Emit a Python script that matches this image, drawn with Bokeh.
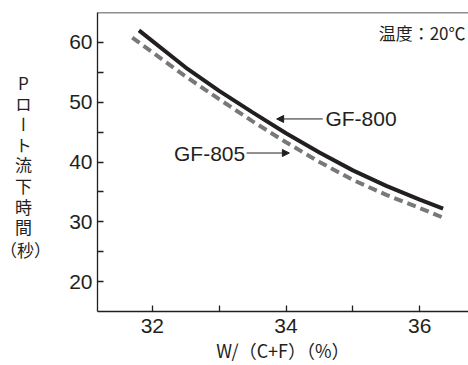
from bokeh.plotting import figure
from bokeh.layouts import row
from bokeh.models import (Range1d, FixedTicker, Label, Arrow, NormalHead, Span,
                          ColumnDataSource, Div)
from bokeh.embed import file_html
from bokeh.resources import INLINE

# ---- data ----
x_gf800 = [31.8, 32.5, 33.0, 33.5, 34.0, 34.5, 35.0, 35.5, 36.0, 36.35]
y_gf800 = [62.0, 55.8, 51.9, 48.3, 44.8, 41.6, 38.6, 36.0, 33.7, 32.2]
x_gf805 = [31.7, 32.5, 33.0, 33.5, 34.0, 34.5, 35.0, 35.5, 36.0, 36.35]
y_gf805 = [60.8, 54.3, 50.5, 46.8, 43.3, 40.0, 37.0, 34.5, 32.3, 30.7]
x_ticks = [32, 34, 36]
x_minor = [33, 35]
y_ticks = [20, 30, 40, 50, 60]
y_minor = [25, 35, 45, 55]
series_names = ["GF-800", "GF-805"]
x_label = "W/（C+F）（%）"
y_label = "Pロート流下時間"
y_unit = "（秒）"
note = "温度：20℃"

INK = "#231f20"
GRAY = "#77787b"
LATIN = "Liberation Sans"
CJK = "Noto Sans CJK JP"

p = figure(width=420, height=365, output_backend="svg", toolbar_location=None,
           x_range=Range1d(31.18, 36.73), y_range=Range1d(15, 65),
           min_border_left=49, min_border_right=0, min_border_top=12,
           min_border_bottom=53)
p.background_fill_color = "white"
p.border_fill_color = "white"
p.outline_line_color = None
p.grid.visible = False

for ax in (p.xaxis[0], p.yaxis[0]):
    ax.axis_line_color = INK
    ax.axis_line_width = 1.3
    ax.major_tick_line_color = INK
    ax.minor_tick_line_color = INK
    ax.major_tick_line_width = 1.3
    ax.minor_tick_line_width = 1.3
    ax.major_tick_in = 6
    ax.major_tick_out = 0
    ax.minor_tick_in = 6
    ax.minor_tick_out = 0
    ax.major_label_text_font = LATIN
    ax.major_label_text_font_size = "21px"
    ax.major_label_text_color = INK

p.xaxis[0].ticker = FixedTicker(ticks=x_ticks, minor_ticks=x_minor)
p.yaxis[0].ticker = FixedTicker(ticks=y_ticks, minor_ticks=y_minor)
p.xaxis[0].major_label_standoff = 7
p.yaxis[0].major_label_standoff = 5
p.xaxis[0].axis_label = x_label
p.xaxis[0].axis_label_text_font = CJK
p.xaxis[0].axis_label_text_font_size = "18px"
p.xaxis[0].axis_label_text_font_style = "normal"
p.xaxis[0].axis_label_text_color = INK
p.xaxis[0].axis_label_standoff = 1

# top border
p.add_layout(Span(location=65, dimension="width", line_color=INK, line_width=1.3))

src800 = ColumnDataSource(dict(x=x_gf800, y=y_gf800))
src805 = ColumnDataSource(dict(x=x_gf805, y=y_gf805))
p.line("x", "y", source=src805, line_color=GRAY, line_width=4, line_dash="9 5")
p.line("x", "y", source=src800, line_color=INK, line_width=4)

# annotations with arrows
p.add_layout(Arrow(x_start=34.55, y_start=47.2, x_end=33.86, y_end=47.2,
                   line_color=INK, line_width=1,
                   end=NormalHead(size=7, line_color=INK, fill_color=INK, line_width=1)))
p.add_layout(Label(x=34.59, y=47.3, text=series_names[0], text_font=LATIN,
                   text_font_size="21px", text_color=INK, text_baseline="middle",
                   text_align="left"))
p.add_layout(Arrow(x_start=33.41, y_start=41.5, x_end=34.05, y_end=41.5,
                   line_color=INK, line_width=1,
                   end=NormalHead(size=7, line_color=INK, fill_color=INK, line_width=1)))
p.add_layout(Label(x=33.39, y=41.5, text=series_names[1], text_font=LATIN,
                   text_font_size="21px", text_color=INK, text_baseline="middle",
                   text_align="right"))

# note
p.add_layout(Label(x=368, y=279, x_units="screen", y_units="screen", text=note,
                   text_font=CJK, text_font_size="17px", text_color=INK,
                   text_baseline="middle", text_align="right"))

# y label (stacked vertical text) in a side Div
ylab_html = (
    f'<div style="position:relative;width:48px;height:365px;color:{INK};'
    f'font-family:\'{CJK}\';font-size:17px;line-height:1;">'
    f'<div style="position:absolute;left:15px;top:75px;writing-mode:vertical-rl;'
    f'text-orientation:upright;letter-spacing:3.6px;">{y_label}</div>'
    f'<div style="position:absolute;left:0px;top:241px;width:51px;text-align:center;'
    f'white-space:nowrap;">{y_unit}</div>'
    '</div>'
)
ydiv = Div(text=ylab_html, width=48, height=365, margin=0)

layout = row(ydiv, p, spacing=0)
open("out.html", "w").write(file_html(layout, INLINE))
